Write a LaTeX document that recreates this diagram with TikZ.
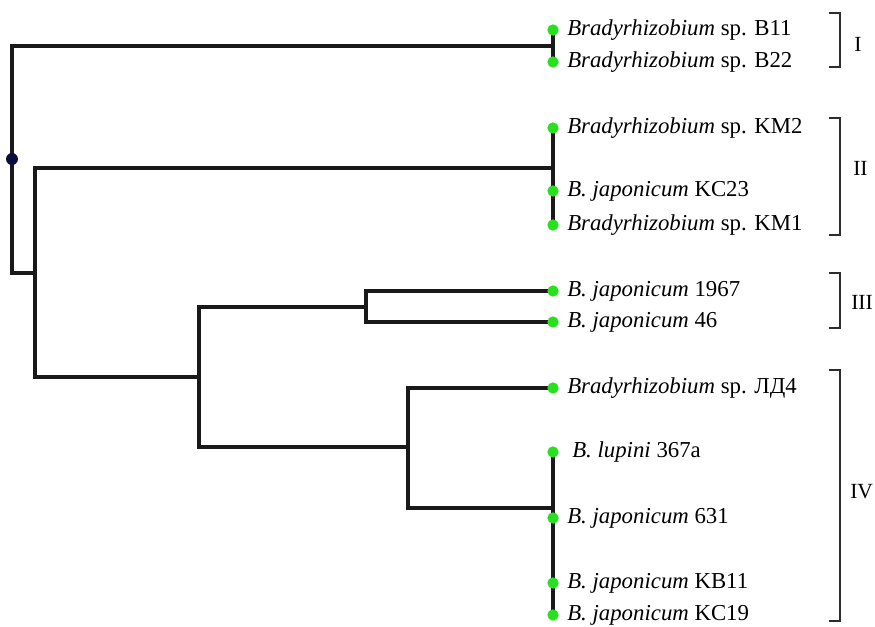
\documentclass[tikz,border=0pt]{standalone}
\usepackage{fontspec}
\setmainfont{Liberation Serif}
\definecolor{leafgreen}{RGB}{40,225,30}
\definecolor{rootblue}{RGB}{10,12,60}
\definecolor{branch}{RGB}{25,25,25}
\definecolor{brk}{RGB}{45,45,45}
\begin{document}
\begin{tikzpicture}[x=0.75pt,y=-0.75pt,
  edge/.style={draw=branch,line width=2.3pt},
  leafdot/.style={circle,fill=leafgreen,inner sep=0pt,minimum size=8.5pt},
  rootdot/.style={circle,fill=rootblue,inner sep=0pt,minimum size=9pt},
  lbl/.style={anchor=west,inner sep=0pt,font=\fontsize{17.1}{18}\selectfont},
  grp/.style={anchor=west,inner sep=0pt,font=\fontsize{16.2}{18}\selectfont},
  bracket/.style={draw=brk,line width=1.1pt}]
\useasboundingbox (0,0) rectangle (875,626);
% internal nodes
\coordinate (R) at (12,159);
\coordinate (n2) at (35,273);
\coordinate (n3) at (199,377);
\coordinate (n4) at (366,307);
\coordinate (n5) at (408,447);
\coordinate (cI) at (553,46);
\coordinate (cII) at (553,168);
\coordinate (cIV) at (553,508);
% leaves
\coordinate (B11) at (553,30);
\coordinate (B22) at (553,62);
\coordinate (KM2) at (553,128);
\coordinate (KC23) at (553,191);
\coordinate (KM1) at (553,225);
\coordinate (J1967) at (553,291);
\coordinate (J46) at (553,322);
\coordinate (LD4) at (553,388);
\coordinate (L367) at (553,452);
\coordinate (J631) at (553,518);
\coordinate (KB11) at (553,583);
\coordinate (KC19) at (553,615);
% branches
\draw[edge] (R) |- (cI);
\draw[edge] (R) |- (n2);
\draw[edge] (n2) |- (cII);
\draw[edge] (n2) |- (n3);
\draw[edge] (n3) |- (n4);
\draw[edge] (n3) |- (n5);
\draw[edge] (n4) |- (J1967);
\draw[edge] (n4) |- (J46);
\draw[edge] (n5) |- (LD4);
\draw[edge] (n5) |- (cIV);
\draw[edge] (B11) -- (B22);
\draw[edge] (KM2) -- (KM1);
\draw[edge] (L367) -- (KC19);
% dots
\node[rootdot] (Rdot) at (R) {};
\foreach \l in {B11,B22,KM2,KC23,KM1,J1967,J46,LD4,L367,J631,KB11,KC19}
  \node[leafdot] (\l dot) at (\l) {};
% labels
\node[lbl] (tB11) at (567,30) {\textit{Bradyrhizobium} sp. B11};
\node[lbl] (tB22) at (567,62) {\textit{Bradyrhizobium} sp. B22};
\node[lbl] (tKM2) at (567,128) {\textit{Bradyrhizobium} sp. KM2};
\node[lbl] (tKC23) at (567,191) {\textit{B. japonicum} KC23};
\node[lbl] (tKM1) at (567,225) {\textit{Bradyrhizobium} sp. KM1};
\node[lbl] (t1967) at (567,291) {\textit{B. japonicum} 1967};
\node[lbl] (t46) at (567,322) {\textit{B. japonicum} 46};
\node[lbl] (tLD4) at (567,388) {\textit{Bradyrhizobium} sp. ЛД4};
\node[lbl] (t367) at (572,452) {\textit{B. lupini} 367a};
\node[lbl] (t631) at (567,518) {\textit{B. japonicum} 631};
\node[lbl] (tKB11) at (567,583) {\textit{B. japonicum} KB11};
\node[lbl] (tKC19) at (567,615) {\textit{B. japonicum} KC19};
% group brackets
\draw[bracket] (829,13) -- (840,13) -- (840,67) -- (829,67);
\draw[bracket] (829,118) -- (840,118) -- (840,235) -- (829,235);
\draw[bracket] (829,273) -- (840,273) -- (840,328) -- (829,328);
\draw[bracket] (829,370) -- (840,370) -- (840,621) -- (829,621);
\node[grp] (gI) at (854,44) {I};
\node[grp] (gII) at (853,168) {II};
\node[grp] (gIII) at (851,302) {III};
\node[grp] (gIV) at (850,492) {IV};
\end{tikzpicture}
\end{document}
